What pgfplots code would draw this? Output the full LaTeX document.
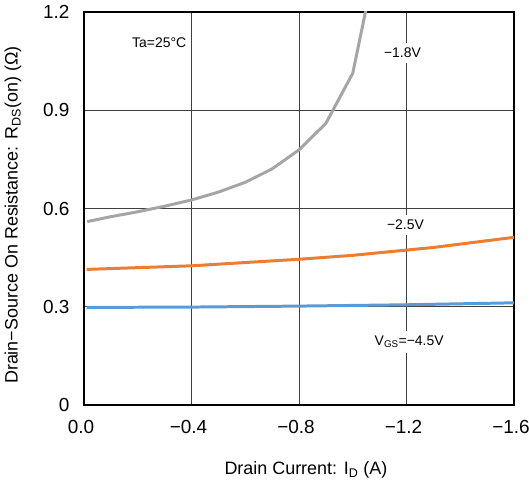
\documentclass[border=0pt]{standalone}
\usepackage{fontspec}
\setmainfont{Liberation Sans}
\usepackage{pgfplots}
\pgfplotsset{compat=1.18}
\definecolor{curvegray}{RGB}{165,165,165}
\definecolor{curveorange}{RGB}{237,125,49}
\definecolor{curveblue}{RGB}{91,155,213}
\begin{document}
\begin{tikzpicture}
\begin{axis}[
  scale only axis,
  width=430bp, height=393bp,
  x dir=reverse,
  xmin=-1.6, xmax=0,
  ymin=0, ymax=1.2,
  xtick={-1.6,-1.2,-0.8,-0.4,0},
  xticklabels={−1.6,−1.2,−0.8,−0.4,0.0},
  ytick={0,0.3,0.6,0.9,1.2},
  yticklabels={0,0.3,0.6,0.9,1.2},
  major tick length=0pt,
  tick label style={font=\fontsize{19}{22}\selectfont},
  xticklabel style={yshift=-12bp, xshift=-3bp},
  yticklabel style={xshift=-11bp},
  grid=major,
  major grid style={black!75, line width=0.8pt},
  axis line style={black, line width=1.6pt},
  every axis x label/.style={at={(axis description cs:0.516,-0.165)}, anchor=center},
  every axis y label/.style={at={(axis description cs:-0.165,0.483)}, rotate=90, anchor=center},
  label style={font=\fontsize{18}{21}\selectfont},
  xlabel={Drain Current: I\textsubscript{D} (A)},
  ylabel={Drain−Source On Resistance: R\textsubscript{DS}(on) (Ω)},
  clip=true,
]
% VGS = -1.8 V
\addplot[curvegray, line width=3pt] coordinates {
(-0.012,0.560) (-0.1,0.575) (-0.2,0.590) (-0.3,0.607) (-0.4,0.626)
(-0.5,0.650) (-0.6,0.680) (-0.7,0.721) (-0.8,0.779) (-0.9,0.860)
(-1.0,1.013) (-1.06,1.25)
};
% VGS = -2.5 V
\addplot[curveorange, line width=3pt] coordinates {
(-0.01,0.414) (-0.4,0.425) (-0.8,0.445) (-1.0,0.457) (-1.2,0.473)
(-1.3,0.481) (-1.6,0.512)
};
% VGS = -4.5 V
\addplot[curveblue, line width=3pt] coordinates {
(-0.01,0.298) (-0.4,0.299) (-0.8,0.302) (-1.2,0.306) (-1.6,0.312)
};
\node[fill=white, inner sep=5bp, font=\fontsize{14}{16}\selectfont] at (axis cs:-0.28,1.105) {Ta=25°C};
\node[fill=white, inner sep=5bp, font=\fontsize{14}{16}\selectfont] at (axis cs:-1.185,1.075) {−1.8V};
\node[fill=white, inner sep=5bp, font=\fontsize{14}{16}\selectfont] at (axis cs:-1.196,0.55) {−2.5V};
\node[fill=white, inner sep=5bp, font=\fontsize{14}{16}\selectfont] at (axis cs:-1.21,0.192) {V\textsubscript{GS}=−4.5V};
\end{axis}
\pgfresetboundingbox
\path[use as bounding box] (-84bp,-90bp) rectangle (445bp,405bp);
\end{tikzpicture}
\end{document}
